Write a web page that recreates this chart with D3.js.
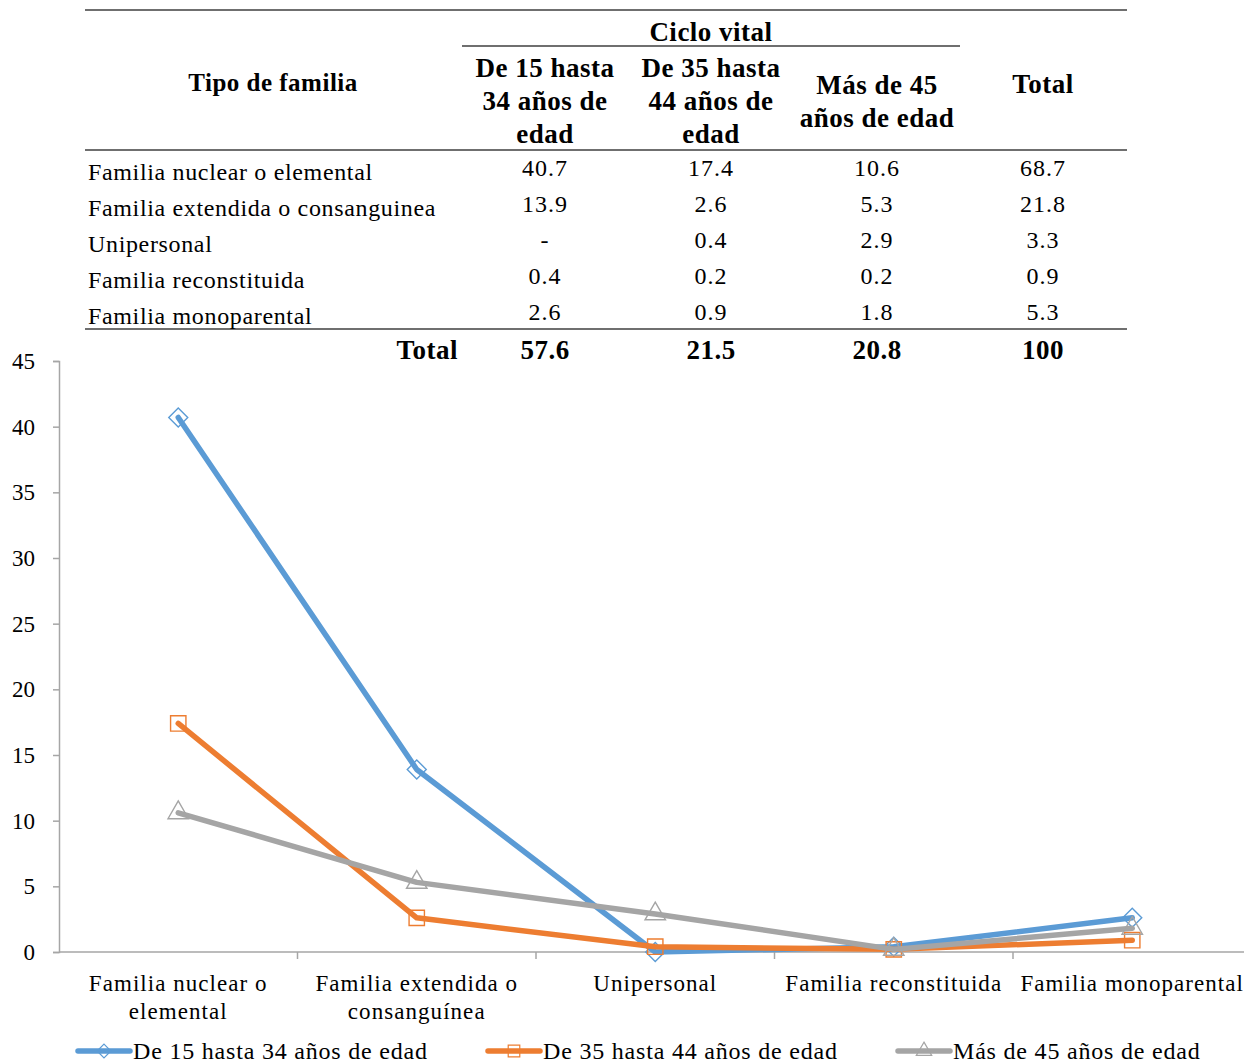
<!DOCTYPE html>
<html>
<head>
<meta charset="utf-8">
<script src="https://cdn.jsdelivr.net/npm/d3@7"></script>
<style>
  html, body { margin: 0; padding: 0; background: #fff; }
  svg { display: block; font-family: "Liberation Serif", "Times New Roman", serif; }
</style>
</head>
<body>
<svg id="chart" width="1244" height="1063"></svg>
<script>
// Family type by life cycle stage (percent)
const categories = [
  "Familia nuclear o elemental",
  "Familia extendida o consanguinea",
  "Unipersonal",
  "Familia reconstituida",
  "Familia monoparental"
];
const axisLabels = [
  ["Familia nuclear o", "elemental"],
  ["Familia extendida o", "consanguínea"],
  ["Unipersonal"],
  ["Familia reconstituida"],
  ["Familia monoparental"]
];
const seriesNames = [
  "De 15 hasta 34 años de edad",
  "De 35 hasta 44 años de edad",
  "Más de 45 años de edad"
];
const age15to34 = [40.7, 13.9, 0, 0.4, 2.6];
const age35to44 = [17.4, 2.6, 0.4, 0.2, 0.9];
const age45plus = [10.6, 5.3, 2.9, 0.2, 1.8];
const rowTotals = [68.7, 21.8, 3.3, 0.9, 5.3];
const tableCells = [
  ["40.7", "17.4", "10.6", "68.7"],
  ["13.9", "2.6", "5.3", "21.8"],
  ["-", "0.4", "2.9", "3.3"],
  ["0.4", "0.2", "0.2", "0.9"],
  ["2.6", "0.9", "1.8", "5.3"]
];
const columnTotals = ["57.6", "21.5", "20.8", "100"];
const columnHeaders = [
  ["De 15 hasta", "34 años de", "edad"],
  ["De 35 hasta", "44 años de", "edad"],
  ["Más de 45", "años de edad"],
  ["Total"]
];
const yTicks = [0, 5, 10, 15, 20, 25, 30, 35, 40, 45];

const colors = ["#5b9bd5", "#ed7d31", "#a5a5a5"];
const symbols = [d3.symbolDiamond2, d3.symbolSquare2, d3.symbolTriangle2];
const seriesValues = [age15to34, age35to44, age45plus];

const svg = d3.select("#chart");

// ---------- Table ----------
const table = svg.append("g").attr("class", "table");
const ruleColor = "#3f3f3f";
const colX = [545, 711, 877, 1043];
const headerY = [101, 101, 101, 84];

function rule(x1, x2, y) {
  table.append("line").attr("x1", x1).attr("x2", x2).attr("y1", y).attr("y2", y)
    .attr("stroke", ruleColor).attr("stroke-width", 1.5);
}
rule(85, 1127, 10);
rule(462, 960, 46);
rule(85, 1127, 150);
rule(85, 1127, 329);

function bold(x, y, txt, anchor) {
  return table.append("text").attr("x", x).attr("y", y).attr("text-anchor", anchor || "middle")
    .attr("dominant-baseline", "central").attr("font-weight", "bold").attr("font-size", 27)
    .attr("letter-spacing", 0.5).text(txt);
}

bold(711, 32, "Ciclo vital");
table.append("text").attr("x", 273).attr("y", 82).attr("text-anchor", "middle")
  .attr("dominant-baseline", "central").attr("font-weight", "bold").attr("font-size", 25)
  .attr("letter-spacing", 0.5).text("Tipo de familia");

columnHeaders.forEach((lines, i) => {
  const lh = 33;
  const startY = headerY[i] - (lines.length - 1) * lh / 2;
  lines.forEach((ln, j) => bold(colX[i], startY + j * lh, ln));
});

categories.forEach((c, r) => {
  const y = 168 + r * 36;
  table.append("text").attr("x", 88).attr("y", y + 4).attr("dominant-baseline", "central")
    .attr("font-size", 24).attr("letter-spacing", 0.65).text(c);
  tableCells[r].forEach((v, i) => {
    table.append("text").attr("x", colX[i]).attr("y", y).attr("text-anchor", "middle")
      .attr("dominant-baseline", "central").attr("font-size", 24).attr("letter-spacing", 1)
      .text(v);
  });
});

bold(458, 350, "Total", "end");
columnTotals.forEach((v, i) => bold(colX[i], 350, v));

// ---------- Line chart ----------
const x = d3.scaleBand().domain(categories).range([59, 1251.5]);
const y = d3.scaleLinear().domain([0, 45]).range([952, 361]);
const axisColor = "#a6a6a6";

const yAxis = svg.append("g").attr("transform", "translate(59,0)")
  .call(d3.axisLeft(y).tickValues(yTicks).tickSize(6).tickPadding(18).tickFormat(d3.format("d")));
yAxis.select(".domain").attr("stroke", axisColor).attr("stroke-width", 1.5);
yAxis.selectAll(".tick line").attr("stroke", axisColor).attr("stroke-width", 1.5);
yAxis.selectAll(".tick text").attr("font-size", 23).attr("fill", "#000")
  .attr("font-family", "Liberation Serif, serif");

// x axis baseline and category boundary ticks
const xAxis = svg.append("g").attr("transform", "translate(0,952)");
xAxis.append("line").attr("x1", 59).attr("x2", 1244).attr("y1", 0).attr("y2", 0)
  .attr("stroke", axisColor).attr("stroke-width", 1.5);
xAxis.selectAll("line.tick").data(categories.slice(1)).join("line").attr("class", "tick")
  .attr("x1", d => x(d)).attr("x2", d => x(d)).attr("y1", 0).attr("y2", 7)
  .attr("stroke", axisColor).attr("stroke-width", 1.5);
categories.forEach((c, i) => {
  const t = xAxis.append("text").attr("text-anchor", "middle").attr("font-size", 23)
    .attr("letter-spacing", 1.05);
  axisLabels[i].forEach((ln, j) => {
    t.append("tspan").attr("x", x(c) + x.bandwidth() / 2).attr("y", 39 + j * 28).text(ln);
  });
});

const cx = d => x(d) + x.bandwidth() / 2;
const line = d3.line().x((d, i) => cx(categories[i])).y(d => y(d));

seriesValues.forEach((vals, s) => {
  const g = svg.append("g");
  g.append("path").datum(vals).attr("d", line).attr("fill", "none")
    .attr("stroke", colors[s]).attr("stroke-width", 5.5)
    .attr("stroke-linecap", "round").attr("stroke-linejoin", "round");
  g.selectAll("path.m").data(vals).join("path").attr("class", "m")
    .attr("transform", (d, i) => `translate(${cx(categories[i])},${y(d)})`)
    .attr("d", d3.symbol().type(symbols[s]).size(s === 0 ? 230 : 300))
    .attr("fill", "none").attr("stroke", colors[s]).attr("stroke-width", 1.4);
});

// ---------- Legend ----------
const legendX = [78, 488, 898];
seriesNames.forEach((name, s) => {
  const g = svg.append("g").attr("transform", `translate(${legendX[s]},1051)`);
  g.append("line").attr("x1", 0).attr("x2", 52).attr("stroke", colors[s])
    .attr("stroke-width", 5.5).attr("stroke-linecap", "round");
  g.append("path").attr("transform", "translate(26,0)")
    .attr("d", d3.symbol().type(symbols[s]).size(s === 0 ? 120 : 170))
    .attr("fill", "none").attr("stroke", colors[s]).attr("stroke-width", 1.2);
  g.append("text").attr("x", 55).attr("y", 0).attr("dominant-baseline", "central")
    .attr("font-size", 24).attr("letter-spacing", 0.8).text(name);
});
</script>
</body>
</html>
